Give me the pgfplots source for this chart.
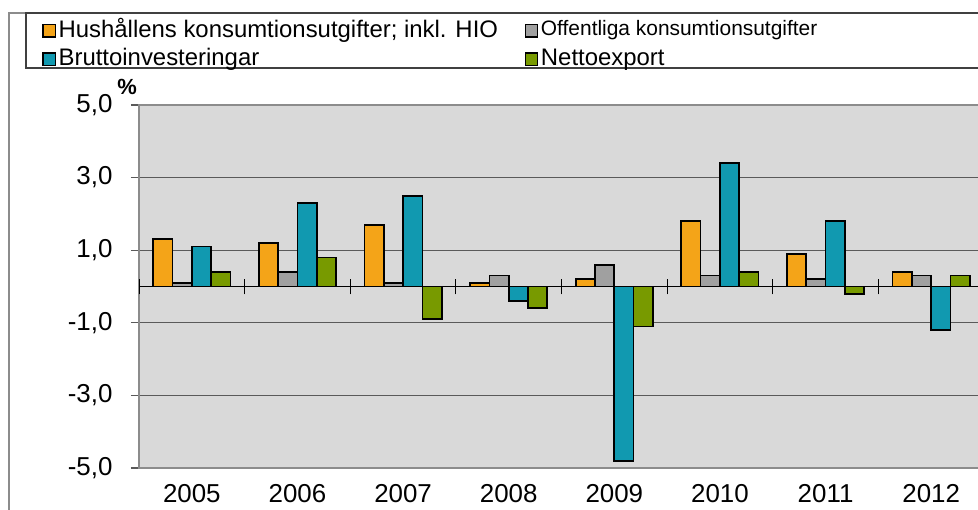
\documentclass[border=0pt]{standalone}
\usepackage{fontspec}
\setmainfont{Liberation Sans}
\usepackage{pgfplots}
\pgfplotsset{compat=1.18}

\definecolor{hush}{HTML}{F4A418}
\definecolor{offk}{HTML}{A0A0A0}
\definecolor{brutto}{HTML}{1199B0}
\definecolor{netto}{HTML}{789A00}
\definecolor{bgc}{HTML}{D9D9D9}
\definecolor{gridc}{HTML}{5A5A5A}
\definecolor{framec}{HTML}{8C8C8C}

\begin{document}
\begin{tikzpicture}[x=1bp,y=1bp]
\useasboundingbox (0,0) rectangle (978,510);
\clip (0,0) rectangle (978,510);
% chart frame and legend frame
\draw[framec, line width=1.3bp] (9,-5) -- (9,497) -- (990,497);
\draw[black!75, line width=1.3bp] (990,497) -- (26,497) -- (26,442) -- (990,442);

\begin{axis}[
    at={(139bp,42bp)}, anchor=south west,
    scale only axis,
    width=845bp, height=363bp,
    xmin=-0.5, xmax=7.5,
    ymin=-5, ymax=5,
    ybar=0pt, bar width=19.3bp,
    axis background/.style={fill=bgc},
    axis line style={draw=framec, line width=1.5bp},
    xtick={0,...,7},
    xticklabels={2005,2006,2007,2008,2009,2010,2011,2012},
    xtick style={draw=none},
    xtick pos=bottom,
    xticklabel style={yshift=-5bp},
    ytick={-5,-3,-1,1,3,5},
    ytick pos=left,
    tick align=outside, major tick length=8bp,
    ytick style={draw=gridc, line width=1.2bp},
    yticklabel style={xshift=-15bp, /pgf/number format/.cd, fixed, fixed zerofill, precision=1, use comma},
    /pgf/number format/assume math mode=true,
    ticklabel style={font=\fontsize{26}{28}\selectfont},
    ymajorgrids, grid style={draw=gridc, line width=1.2bp},
    ylabel={\fontsize{22}{24}\selectfont\bfseries\%},
    ylabel style={rotate=-90, at={(axis description cs:0,1)}, anchor=south east, inner sep=1bp, yshift=9bp, xshift=-1bp},
    every axis plot/.append style={draw=black, line width=1.7bp},
    legend columns=2,
    legend cell align=left,
    legend style={draw=none, fill=none, at={(axis description cs:-0.1183,1.247)}, anchor=north west,
        font=\fontsize{24}{26}\selectfont, row sep=7bp,
        nodes={inner xsep=2.5bp, inner ysep=1bp},
        /tikz/every even column/.append style={column sep=24bp}},
    legend image code/.code={\draw[#1, draw=black, line width=1.4bp] (0bp,-8bp) rectangle (12.5bp,4.5bp);},
]
\draw[black, line width=1.1bp] (axis cs:-0.5,0) -- (axis cs:7.5,0);
% tick marks between the years on the zero line
\pgfplotsinvokeforeach{0,...,8}{
    \draw[black, line width=0.9bp] (axis cs:{#1-0.5},-0.22) -- (axis cs:{#1-0.5},0.22);
}
\addplot[fill=hush] coordinates {(0,1.3) (1,1.2) (2,1.7) (3,0.1) (4,0.2) (5,1.8) (6,0.9) (7,0.4)};
\addlegendentry{Hushållens konsumtionsutgifter; inkl. HIO}
\addplot[fill=offk] coordinates {(0,0.1) (1,0.4) (2,0.1) (3,0.3) (4,0.6) (5,0.3) (6,0.2) (7,0.3)};
\addlegendentry{\fontsize{21}{24}\selectfont Offentliga konsumtionsutgifter}
\addplot[fill=brutto] coordinates {(0,1.1) (1,2.3) (2,2.5) (3,-0.4) (4,-4.8) (5,3.4) (6,1.8) (7,-1.2)};
\addlegendentry{Bruttoinvesteringar}
\addplot[fill=netto] coordinates {(0,0.4) (1,0.8) (2,-0.9) (3,-0.6) (4,-1.1) (5,0.4) (6,-0.2) (7,0.3)};
\addlegendentry{Nettoexport}
\end{axis}
\end{tikzpicture}
\end{document}
